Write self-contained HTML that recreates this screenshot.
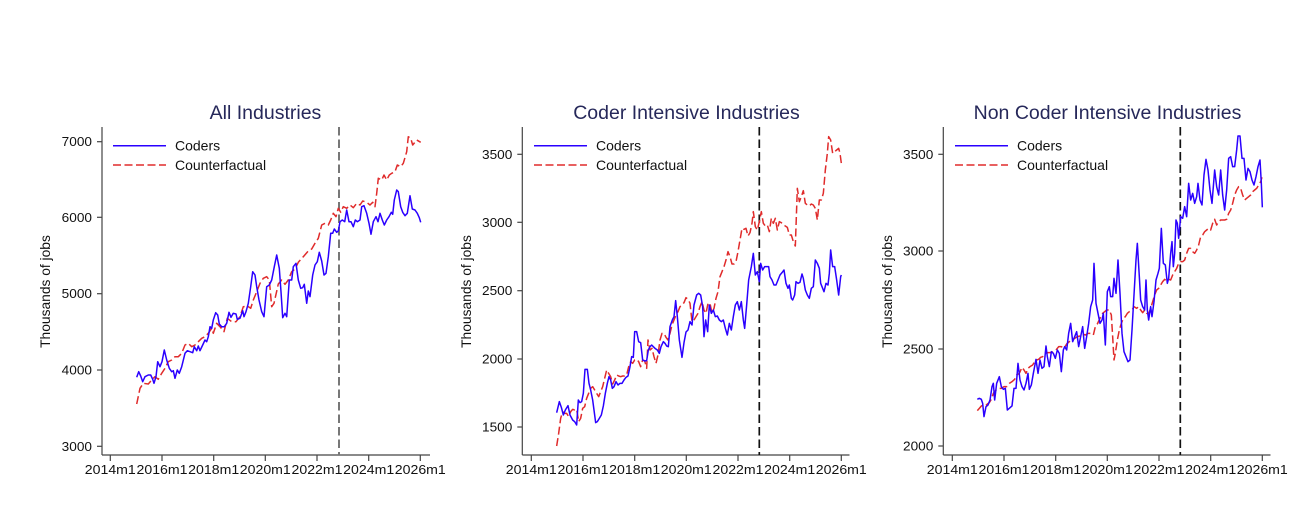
<!DOCTYPE html>
<html><head><meta charset="utf-8"><style>
html,body{margin:0;padding:0;background:#fff;}
svg{display:block;}
text{font-family:"Liberation Sans",Arial,sans-serif;fill:#111;}
.tt{font-size:19.5px;fill:#26285a;}
.tk{font-size:12.5px;}
.yl{font-size:13.8px;}
.lg{font-size:14px;}
.ax{stroke:#444;stroke-width:1.2;fill:none;}
.bl{stroke:#2a00ff;stroke-width:1.5;fill:none;stroke-linejoin:round;}
.rd{stroke:#e02b2b;stroke-width:1.5;fill:none;stroke-dasharray:8,3.5;stroke-linejoin:round;}
.bl3{stroke:#2a00ff;stroke-width:4.5;fill:none;stroke-linejoin:round;}
.rd3{stroke:#e02b2b;stroke-width:4.5;fill:none;stroke-dasharray:24,10.5;stroke-linejoin:round;}
</style></head><body>
<svg width="1302" height="513" viewBox="0 0 1302 513" xmlns="http://www.w3.org/2000/svg">
<rect width="1302" height="513" fill="#fff"/>

<!-- Panel 1 -->
<g>
<text class="tt" x="265.5" y="119" text-anchor="middle">All Industries</text>
<line class="ax" x1="102" y1="127" x2="102" y2="455"/>
<line class="ax" x1="102" y1="455" x2="430" y2="455"/>
<g class="ax">
<line x1="97" y1="141.7" x2="102" y2="141.7"/><line x1="97" y1="217.3" x2="102" y2="217.3"/><line x1="97" y1="293.7" x2="102" y2="293.7"/><line x1="97" y1="370" x2="102" y2="370"/><line x1="97" y1="446.3" x2="102" y2="446.3"/>
</g>
<g class="tk">
<text x="61.7" y="146.2" textLength="30.3" lengthAdjust="spacingAndGlyphs">7000</text><text x="61.7" y="221.8" textLength="30.3" lengthAdjust="spacingAndGlyphs">6000</text><text x="61.7" y="298.2" textLength="30.3" lengthAdjust="spacingAndGlyphs">5000</text><text x="61.7" y="374.5" textLength="30.3" lengthAdjust="spacingAndGlyphs">4000</text><text x="61.7" y="450.8" textLength="30.3" lengthAdjust="spacingAndGlyphs">3000</text>
</g>
<text class="yl" transform="translate(50,291.5) rotate(-90)" text-anchor="middle">Thousands of jobs</text>
<line x1="339" y1="127" x2="339" y2="455" stroke="#777" stroke-width="2" stroke-dasharray="8.5,4"/>
<polyline class="rd" points="136.7,404 140,388.3 143.3,383.3 148.3,384 151.7,380 155,376.7 158.3,379.3 161.7,373.3 165,368.3 168.3,361.7 171.7,360 175,356.7 178.3,356.7 181.7,353.3 185,345 188.3,343.3 191.7,346.7 195,345 198.3,341.7 201.7,338.3 205,336.7 208.3,333.3 211.7,328.3 213.3,333.3 216.7,323.3 220,326.7 224,331.7 227.3,318.3 231.7,321.7 236,321.7 240,316.7 243.3,306.7 247.3,306 250.7,308.3 253.3,300 256.7,291.7 260,283.3 263.3,278.3 266.7,276.7 269.3,280 271.7,306.7 274,303.3 278.3,284 281.7,280 285,284.3 288.3,280 291.7,271.7 295,269 298.3,262.3 303.3,256.7 308.3,251 311.7,249 315,243.3 318.3,238.3 321.7,225 325,223.3 328.3,225 330.7,220 333.3,213.3 336,216.7 338.3,208.3 340.7,212.3 343.3,206.7 346.7,208.3 350,205 353.3,207.7 356.7,203.3 360,205 362.7,201 366.7,202.3 370,205 372.7,202.3 375,206.7 376.7,193.3 378.3,178.3 381.7,180 384,175 386.7,180 389.3,175 391.7,173.3 395,171.7 397.3,165 400.7,166.7 403.3,163.3 406.7,151.7 408.3,136.7 410.7,138.3 412.7,145 416.7,140 420.7,142.3"/>
<polyline class="bl" points="136.7,377.3 138.7,371.7 140.7,376 142.7,381.7 145,376.7 148.3,375 150.7,375 152.7,379.3 154,383.3 156,376.7 157.7,361.7 160,366.7 162,361.7 164.3,350 166.7,360 169.3,368.3 171.7,371.7 173.3,370.7 175,378.3 177.3,370 179.3,373.3 181.7,366.7 185,353.3 187.3,350.7 190,351.7 192.7,352.7 194.3,346.7 196.7,350.7 198.3,346 200,350.7 202.7,345 205,340 206.7,341.7 208.3,336.7 210,326.7 211.7,328.3 213.3,320 215.7,312.7 217.7,315 219.3,324 221.7,326.7 224.3,326.7 226.7,323.3 229,312.3 231,317.3 233.3,313.3 236,314 237.3,319.3 240,318.3 242.7,310.7 244,316.7 246,311.7 248.3,303.3 250.7,286.7 252.7,271.7 255,275 256.7,286.7 259,300 261.7,311.7 264,316.7 266.7,286.7 269.3,285 271.7,280 274.3,266.7 276.7,255 279.3,268.3 281,291.7 282.7,317.7 285,313.3 286.7,316.7 289.3,280 291.7,280 293.3,266.7 296,263.3 298.3,280 300.7,288.3 302.7,287.7 304.3,284.3 306.7,303.3 308.3,291 310,296.7 312.7,275 315,265 317.3,261.7 319.3,252.3 321.7,261 324,275 326,273.3 328.3,256.7 330.7,233.3 332.7,233.3 334.3,229 336.7,232.3 338.3,231 340,221.7 342.3,220 344.7,221.7 346.7,210 349,221.7 351,221.7 353.3,226.7 355.3,220 357.3,221.7 360,220 361.7,206.7 364,205.7 366.7,213.3 369,223.3 371,234.3 373.3,221.7 376,216.7 378,221.7 380,213.3 382.3,220 384.3,225 386.7,220 389,216.7 391.3,212.3 392.7,214.3 394.3,200 396.7,190 398.3,191.7 400.7,206.7 402.7,212.3 405,215.7 407.3,213.3 410,195.7 412.3,209 415,210 417.3,213.3 419.3,217.7 420.7,222.3"/>
</g>

<!-- x axes ticks + labels + legend for all 3 panels -->
<g id="xa">
<g class="ax">
<line x1="110.3" y1="455" x2="110.3" y2="461"/><line x1="162" y1="455" x2="162" y2="461"/><line x1="213.7" y1="455" x2="213.7" y2="461"/><line x1="265.3" y1="455" x2="265.3" y2="461"/><line x1="317" y1="455" x2="317" y2="461"/><line x1="368.7" y1="455" x2="368.7" y2="461"/><line x1="420.3" y1="455" x2="420.3" y2="461"/>
</g>
<g class="tk">
<text x="84.8" y="474" textLength="51" lengthAdjust="spacingAndGlyphs">2014m1</text><text x="136.5" y="474" textLength="51" lengthAdjust="spacingAndGlyphs">2016m1</text><text x="188.2" y="474" textLength="51" lengthAdjust="spacingAndGlyphs">2018m1</text><text x="239.8" y="474" textLength="51" lengthAdjust="spacingAndGlyphs">2020m1</text><text x="291.5" y="474" textLength="51" lengthAdjust="spacingAndGlyphs">2022m1</text><text x="343.2" y="474" textLength="51" lengthAdjust="spacingAndGlyphs">2024m1</text><text x="394.8" y="474" textLength="51" lengthAdjust="spacingAndGlyphs">2026m1</text>
</g>
<line x1="113" y1="145.7" x2="166" y2="145.7" class="bl"/>
<line x1="113" y1="165" x2="166" y2="165" class="rd"/>
<text class="lg" x="175" y="150.7">Coders</text>
<text class="lg" x="175" y="170">Counterfactual</text>
</g>
<use href="#xa" x="421" y="0"/>
<use href="#xa" x="842" y="0"/>

<!-- Panel 2 -->
<text class="tt" x="686.5" y="119" text-anchor="middle">Coder Intensive Industries</text>
<line class="ax" x1="522.3" y1="127" x2="522.3" y2="455"/>
<line class="ax" x1="522.3" y1="455" x2="849.5" y2="455"/>
<g class="ax">
<line x1="517.3" y1="154.3" x2="522.3" y2="154.3"/><line x1="517.3" y1="222.3" x2="522.3" y2="222.3"/><line x1="517.3" y1="290.7" x2="522.3" y2="290.7"/><line x1="517.3" y1="359" x2="522.3" y2="359"/><line x1="517.3" y1="427" x2="522.3" y2="427"/>
</g>
<g class="tk">
<text x="482" y="158.8" textLength="30.3" lengthAdjust="spacingAndGlyphs">3500</text><text x="482" y="226.8" textLength="30.3" lengthAdjust="spacingAndGlyphs">3000</text><text x="482" y="295.2" textLength="30.3" lengthAdjust="spacingAndGlyphs">2500</text><text x="482" y="363.5" textLength="30.3" lengthAdjust="spacingAndGlyphs">2000</text><text x="482" y="431.5" textLength="30.3" lengthAdjust="spacingAndGlyphs">1500</text>
</g>
<text class="yl" transform="translate(471,291.5) rotate(-90)" text-anchor="middle">Thousands of jobs</text>
<line x1="759.3" y1="127" x2="759.3" y2="455" stroke="#111" stroke-width="1.7" stroke-dasharray="8.5,4"/>
<g transform="translate(440,120) scale(0.33333)">
<polyline class="rd3" points="350,978 356,940 362,895 368,875 374,880 380,880 386,890 392,875 398,868 404,870 410,868 416,905 422,895 428,865 434,860 440,835 446,820 452,805 458,800 464,810 470,820 476,830 482,815 488,800 494,775 500,750 506,760 512,770 518,792 524,780 530,765 536,768 542,770 548,768 554,768 560,765 566,740 572,725 578,730 584,720 590,718 596,725 602,740 608,720 614,722 620,745 624,660 630,690 636,685 642,710 648,730 654,705 660,660 666,640 672,640 678,652 684,660 690,640 696,615 702,600 708,585 714,575 720,560 726,555 732,548 738,533 744,538 750,550 756,605 762,600 768,590 774,580 780,560 786,545 792,570 798,580 804,550 810,550 816,580 822,565 828,535 834,515 840,470 846,455 852,440 858,420 864,395 870,410 876,432 882,432 888,425 894,395 900,360 906,325 912,328 918,325 924,348 930,338 936,310 940,275 946,320 952,330 958,305 964,275 970,310 976,318 982,315 988,335 994,295 1000,310 1006,295 1012,330 1018,305 1024,308 1030,315 1036,318 1042,322 1048,345 1054,345 1060,365 1066,378 1072,205 1078,245 1084,230 1090,212 1096,250 1102,255 1108,258 1114,252 1120,255 1126,265 1132,300 1138,240 1144,240 1150,220 1156,150 1162,100 1166,50 1172,60 1178,100 1184,95 1190,90 1196,85 1200,100 1204,130"/>
<polyline class="bl3" points="350,878 358,845 364,862 370,885 376,870 384,857 390,885 398,900 404,905 410,915 415,840 420,848 425,845 430,820 435,748 442,748 447,790 452,810 458,840 462,870 467,908 472,905 478,895 484,885 490,858 496,820 502,790 507,770 512,780 517,805 522,800 528,785 534,795 540,790 546,790 552,780 558,772 564,768 570,740 575,710 580,712 584,635 590,635 596,665 602,668 608,720 614,723 620,722 625,690 630,680 635,675 640,680 645,685 652,690 658,700 663,680 670,665 675,670 680,678 685,680 690,620 697,600 702,590 707,542 712,590 718,660 726,712 732,668 738,636 744,630 750,605 756,615 762,555 770,525 776,520 782,525 788,560 792,650 797,600 803,635 808,555 814,580 820,570 826,590 832,588 838,600 844,605 850,600 856,625 862,645 868,610 874,630 880,590 886,555 892,545 898,570 904,545 910,600 914,625 920,555 926,480 934,440 940,400 946,465 952,455 958,485 962,430 968,450 974,440 980,440 986,440 990,470 996,480 1002,495 1008,495 1014,480 1020,465 1026,458 1032,450 1038,490 1044,505 1048,495 1054,535 1058,540 1064,525 1068,485 1074,490 1080,487 1086,462 1090,475 1096,510 1102,525 1108,535 1114,505 1120,500 1126,420 1132,430 1138,445 1142,490 1148,505 1152,515 1158,490 1164,495 1168,460 1172,390 1178,440 1184,440 1190,480 1196,525 1202,470 1204,465"/>
</g>

<!-- Panel 3 -->
<text class="tt" x="1107.5" y="119" text-anchor="middle">Non Coder Intensive Industries</text>
<line class="ax" x1="943.3" y1="127" x2="943.3" y2="455"/>
<line class="ax" x1="943.3" y1="455" x2="1270.5" y2="455"/>
<g class="ax">
<line x1="938.3" y1="154.3" x2="943.3" y2="154.3"/><line x1="938.3" y1="251" x2="943.3" y2="251"/><line x1="938.3" y1="349" x2="943.3" y2="349"/><line x1="938.3" y1="446" x2="943.3" y2="446"/>
</g>
<g class="tk">
<text x="903" y="158.8" textLength="30.3" lengthAdjust="spacingAndGlyphs">3500</text><text x="903" y="255.5" textLength="30.3" lengthAdjust="spacingAndGlyphs">3000</text><text x="903" y="353.5" textLength="30.3" lengthAdjust="spacingAndGlyphs">2500</text><text x="903" y="450.5" textLength="30.3" lengthAdjust="spacingAndGlyphs">2000</text>
</g>
<text class="yl" transform="translate(892,291.5) rotate(-90)" text-anchor="middle">Thousands of jobs</text>
<line x1="1180.3" y1="127" x2="1180.3" y2="455" stroke="#111" stroke-width="1.7" stroke-dasharray="8.5,4"/>
<g transform="translate(860,120) scale(0.33333)">
<polyline class="rd3" points="352,872 358,865 364,858 370,855 376,858 382,852 388,848 394,838 400,820 408,810 416,805 424,805 432,800 440,800 448,790 456,785 464,778 470,765 478,760 486,742 492,750 498,760 504,745 510,740 518,735 524,725 530,720 536,718 542,712 548,710 556,700 564,698 572,698 580,695 588,690 596,680 604,680 612,685 620,672 628,665 636,660 644,655 652,650 660,648 668,642 676,645 684,640 692,640 700,645 706,620 712,612 720,595 728,580 734,575 740,570 748,570 754,585 758,650 762,720 766,700 772,660 778,630 784,610 790,595 796,590 802,580 808,575 816,570 822,560 830,565 836,560 842,570 848,578 854,570 860,580 866,582 872,565 878,545 884,525 890,510 896,505 902,495 908,485 914,478 920,482 926,478 932,480 938,465 944,455 950,445 956,430 962,425 968,425 974,420 980,400 986,385 992,385 998,395 1004,400 1010,390 1016,375 1022,350 1028,345 1034,335 1040,330 1046,325 1052,330 1058,310 1064,298 1070,315 1076,305 1082,300 1088,300 1094,300 1100,298 1106,280 1112,270 1118,250 1124,225 1130,210 1136,200 1142,205 1148,225 1154,240 1160,235 1166,230 1172,225 1178,215 1184,210 1190,205 1196,195 1202,185 1206,172"/>
<polyline class="bl3" points="352,838 358,835 364,838 368,850 372,890 378,860 384,855 390,840 396,800 400,790 404,840 410,790 418,770 424,800 430,808 436,805 442,870 448,865 456,858 462,805 468,805 474,730 480,780 486,800 492,810 498,790 504,760 508,808 514,795 520,760 528,718 534,760 540,720 546,745 552,740 558,678 562,710 568,740 574,695 580,700 586,715 592,690 598,700 604,755 610,690 614,680 620,690 626,640 632,610 638,665 644,650 650,635 656,680 662,650 668,620 674,685 680,650 686,610 692,560 698,540 702,430 708,550 714,580 720,610 726,600 730,580 736,675 742,515 748,500 752,530 758,530 762,475 768,520 774,420 780,520 786,640 792,695 798,710 804,725 810,720 816,630 822,525 828,420 832,370 838,470 842,540 848,560 854,570 858,480 862,570 866,600 872,560 876,590 882,545 888,480 894,460 898,445 904,325 910,430 916,435 922,490 926,475 932,400 936,365 940,440 944,400 948,300 952,310 956,355 962,290 968,295 974,260 980,290 986,190 992,240 998,220 1004,250 1010,230 1014,190 1020,240 1026,255 1032,165 1038,118 1044,150 1050,210 1056,250 1060,200 1064,150 1070,200 1076,225 1082,150 1088,225 1094,270 1100,210 1106,115 1112,110 1118,140 1124,140 1130,90 1134,48 1140,48 1146,115 1152,115 1158,180 1164,145 1170,155 1176,180 1182,195 1188,170 1194,140 1200,120 1204,190 1207,262"/>
</g>
</svg>
</body></html>
